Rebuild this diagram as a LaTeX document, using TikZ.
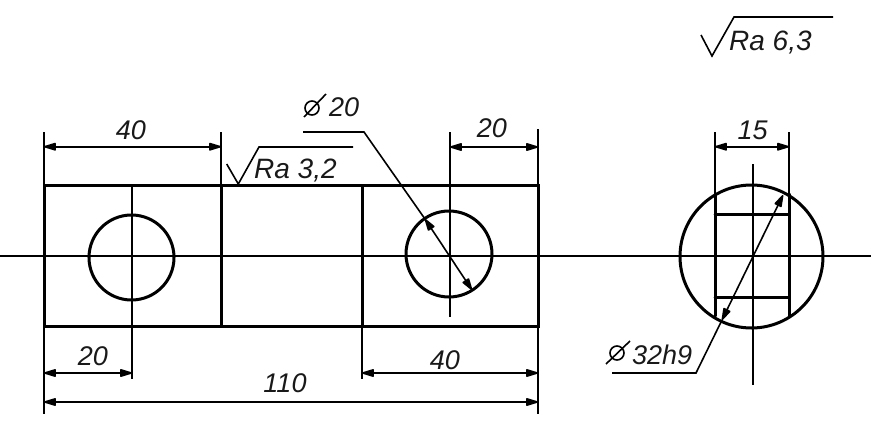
\documentclass[tikz,border=0pt]{standalone}
\usepackage{fontspec}
\setmainfont{Liberation Sans}
\usetikzlibrary{arrows.meta}
\tikzset{
  thinl/.style={line width=1.6pt,black},
  thick2/.style={line width=3pt,black,line cap=round},
  dimtip/.tip={Triangle[length=14pt,width=8pt,line width=1.6pt,round,fill=black]},
  dim/.style={thinl,{dimtip}-{dimtip}},
  lbl/.style={inner sep=0pt,anchor=base,font=\fontsize{27}{30}\selectfont\itshape,text=black!90},
  lbll/.style={lbl,anchor=base west},
  lblr/.style={lbll,font=\fontsize{28}{30}\selectfont\itshape},
}
\begin{document}
\begin{tikzpicture}[x=1pt,y=-1pt]
\useasboundingbox (0,0) rectangle (879,423);
% outlines
\draw[thick2] (44.5,185.5) rectangle (538,326);
\draw[thick2] (221,185.5) -- (221,326);
\draw[thick2] (362,185.5) -- (362,326);
\draw[thick2] (131.5,257.5) circle (42.5);
\draw[thick2] (449,254) circle (43);
\draw[thick2] (751.5,256.5) circle (71.5);
\draw[thick2] (715,194) -- (715,316);
\draw[thick2] (789,194) -- (789,316);
\draw[thick2] (715,214) -- (789,214);
\draw[thick2] (715,297) -- (789,297);
% centre lines and extension lines
\draw[thinl] (0,255.7) -- (871,255.7);
\draw[thinl] (132,185) -- (132,379);
\draw[thinl] (450,132) -- (450,317);
\draw[thinl] (752.7,164) -- (752.7,385);
\draw[thinl] (44,132) -- (44,414);
\draw[thinl] (221,132) -- (221,185);
\draw[thinl] (538,129) -- (538,414);
\draw[thinl] (362,326) -- (362,379);
\draw[thinl] (715,132) -- (715,195);
\draw[thinl] (789,132) -- (789,195);
% dimensions
\coordinate (a1) at (44,146.7);   \coordinate (a2) at (221,146.7);
\coordinate (b1) at (450,147);    \coordinate (b2) at (538,147);
\coordinate (c1) at (715,146.7);  \coordinate (c2) at (789,146.7);
\coordinate (d1) at (44,373);     \coordinate (d2) at (132,373);
\coordinate (e1) at (362,373);    \coordinate (e2) at (538,373);
\coordinate (f1) at (44,402);     \coordinate (f2) at (538,402);
\draw[dim] (a1) -- (a2);
\draw[dim] (b1) -- (b2);
\draw[dim] (c1) -- (c2);
\draw[dim] (d1) -- (d2);
\draw[dim] (e1) -- (e2);
\draw[dim] (f1) -- (f2);
% diameter leaders
\coordinate (g0) at (303,132); \coordinate (g1) at (364,132);
\coordinate (g2) at (425,219); \coordinate (g3) at (472,290);
\draw[thinl] (g0) -- (g1) -- (g2);
\draw[dim] (g2) -- (g3);
\coordinate (h0) at (612,373); \coordinate (h1) at (696,373);
\coordinate (h2) at (722,320); \coordinate (h3) at (783,195);
\draw[thinl] (h0) -- (h1) -- (h2);
\draw[dim] (h2) -- (h3);
% roughness marks
\draw[thinl] (226.7,164) -- (238.3,184) -- (259,147) -- (353,147);
\draw[thinl] (701,35) -- (712,56) -- (734,17) -- (833,17);
% diameter symbols
\draw[thinl] (312,108) circle (7);
\draw[thinl] (304,117) -- (326,94);
\draw[thinl] (617,353) circle (7);
\draw[thinl] (606,364) -- (630,341);
% labels
\node[lbl] (t40a) at (131,139) {40};
\node[lbl] (t20a) at (492,137) {20};
\node[lbl] (t15) at (752.7,139) {15};
\node[lbl] (t20b) at (93,365) {20};
\node[lbl] (t40b) at (445,369) {40};
\node[lbl] (t110) at (285,392) {110};
\node[lbll] (t20c) at (329,116) {20};
\node[lbll] (t32) at (632,364) {32h9};
\node[lblr] (tra1) at (254,178) {Ra 3,2};
\node[lblr] (tra2) at (729,50) {Ra 6,3};
\end{tikzpicture}
\end{document}
